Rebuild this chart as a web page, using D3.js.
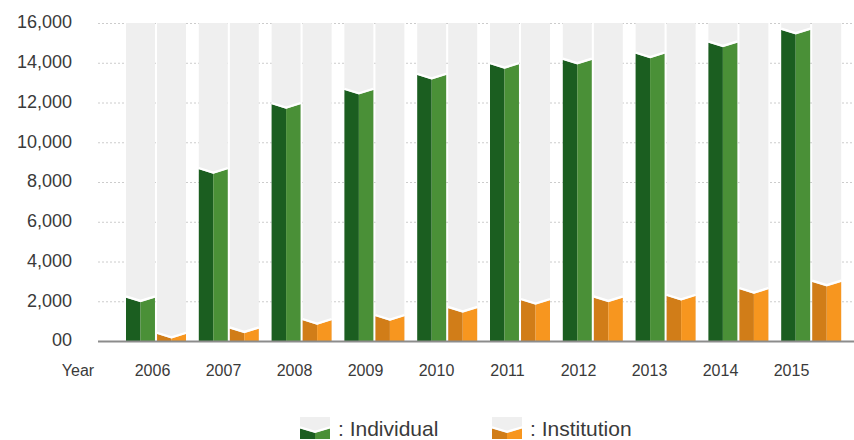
<!DOCTYPE html>
<html><head><meta charset="utf-8">
<script src="https://cdn.jsdelivr.net/npm/d3@7"></script>
<style>
html,body{margin:0;padding:0;background:#fff;}
svg{display:block;font-family:"Liberation Sans",Arial,sans-serif;}
</style></head>
<body><svg id="c" width="854" height="440"></svg>
<script>
const years = ["2006","2007","2008","2009","2010","2011","2012","2013","2014","2015"];
const individual = [2180, 8640, 11910, 12630, 13380, 13920, 14140, 14450, 15010, 15650];
const institution = [350, 620, 1040, 1240, 1650, 2050, 2180, 2260, 2600, 2970];
const yTicks = [0, 2000, 4000, 6000, 8000, 10000, 12000, 14000, 16000];
const yTickLabels = ["00","2,000","4,000","6,000","8,000","10,000","12,000","14,000","16,000"];
const seriesNames = ["Individual","Institution"];

const svg = d3.select("#c");
const y = d3.scaleLinear().domain([0,16000]).range([341,23]);
const x = d3.scaleBand().domain(years).range([119.6,847.6]).paddingInner(0.176).paddingOuter(0.088);
const xs = d3.scaleBand().domain([0,1]).range([0, x.bandwidth()]).paddingInner(4/60);
const xl = d3.scalePoint().domain(years).range([152.5,791.5]);
const colors = [["#1b5e20","#4a9037"],["#d17d18","#f7961f"]];
const notch = 4.5;
const textColor = "#3a3a3a";

// grid
const grid = svg.append("g");
yTicks.filter(t=>t>0).forEach(t=>{
  grid.append("line").attr("x1",98).attr("x2",854).attr("y1",y(t)+0.5).attr("y2",y(t)+0.5)
    .attr("stroke","#cccccc").attr("stroke-dasharray","2,2").attr("stroke-width",1);
});

// y labels
svg.append("g").selectAll("text").data(yTicks).join("text")
  .attr("x",72).attr("y",d=>y(d)-1).attr("dy","0.35em").attr("text-anchor","end")
  .attr("font-size",18).attr("fill",textColor).text((d,i)=>yTickLabels[i]);

// bars
const series = [individual, institution];
const g = svg.append("g");
years.forEach((yr,i)=>{
  series.forEach((vals,s)=>{
    const x0 = x(yr)+xs(s), w = xs.bandwidth(), y0 = y(0), yv = y(vals[i]);
    g.append("rect").attr("x",x0).attr("y",y(16000)).attr("width",w).attr("height",y0-y(16000)).attr("fill","#efefef");
    g.append("polygon").attr("points",[[x0,yv],[x0+w/2,yv+notch],[x0+w/2,y0],[x0,y0]].join(" ")).attr("fill",colors[s][0]);
    g.append("polygon").attr("points",[[x0+w/2,yv+notch],[x0+w,yv],[x0+w,y0],[x0+w/2,y0]].join(" ")).attr("fill",colors[s][1]);
    g.append("polyline").attr("points",[[x0,yv-1.3],[x0+w/2,yv+notch-1.3],[x0+w,yv-1.3]].join(" "))
      .attr("fill","none").attr("stroke","#fff").attr("stroke-width",2.2);
  });
});

// baseline
svg.append("line").attr("x1",98).attr("x2",854).attr("y1",y(0)+0.5).attr("y2",y(0)+0.5).attr("stroke","#8c8c8c").attr("stroke-width",2);

// x labels
svg.append("text").attr("x",78).attr("y",370).attr("dy","0.35em").attr("text-anchor","middle").attr("font-size",16).attr("fill",textColor).text("Year");
svg.append("g").selectAll("text").data(years).join("text")
  .attr("x",d=>xl(d)).attr("y",370).attr("dy","0.35em").attr("text-anchor","middle")
  .attr("font-size",16).attr("fill",textColor).text(d=>d);

// legend
const legX = [300, 492];
seriesNames.forEach((name,s)=>{
  const lx = legX[s], w = 30, top = 417, bot = 439, yv = 428.5;
  svg.append("rect").attr("x",lx).attr("y",top).attr("width",w).attr("height",bot-top).attr("fill","#efefef");
  svg.append("polygon").attr("points",[[lx,yv],[lx+w/2,yv+notch],[lx+w/2,bot],[lx,bot]].join(" ")).attr("fill",colors[s][0]);
  svg.append("polygon").attr("points",[[lx+w/2,yv+notch],[lx+w,yv],[lx+w,bot],[lx+w/2,bot]].join(" ")).attr("fill",colors[s][1]);
  svg.append("polyline").attr("points",[[lx,yv-1.3],[lx+w/2,yv+notch-1.3],[lx+w,yv-1.3]].join(" "))
    .attr("fill","none").attr("stroke","#fff").attr("stroke-width",2.2);
  svg.append("text").attr("x",lx+w+8).attr("y",429).attr("dy","0.35em").attr("font-size",21).attr("fill",textColor)
    .attr("xml:space","preserve").text(": " + name);
});
</script></body></html>
